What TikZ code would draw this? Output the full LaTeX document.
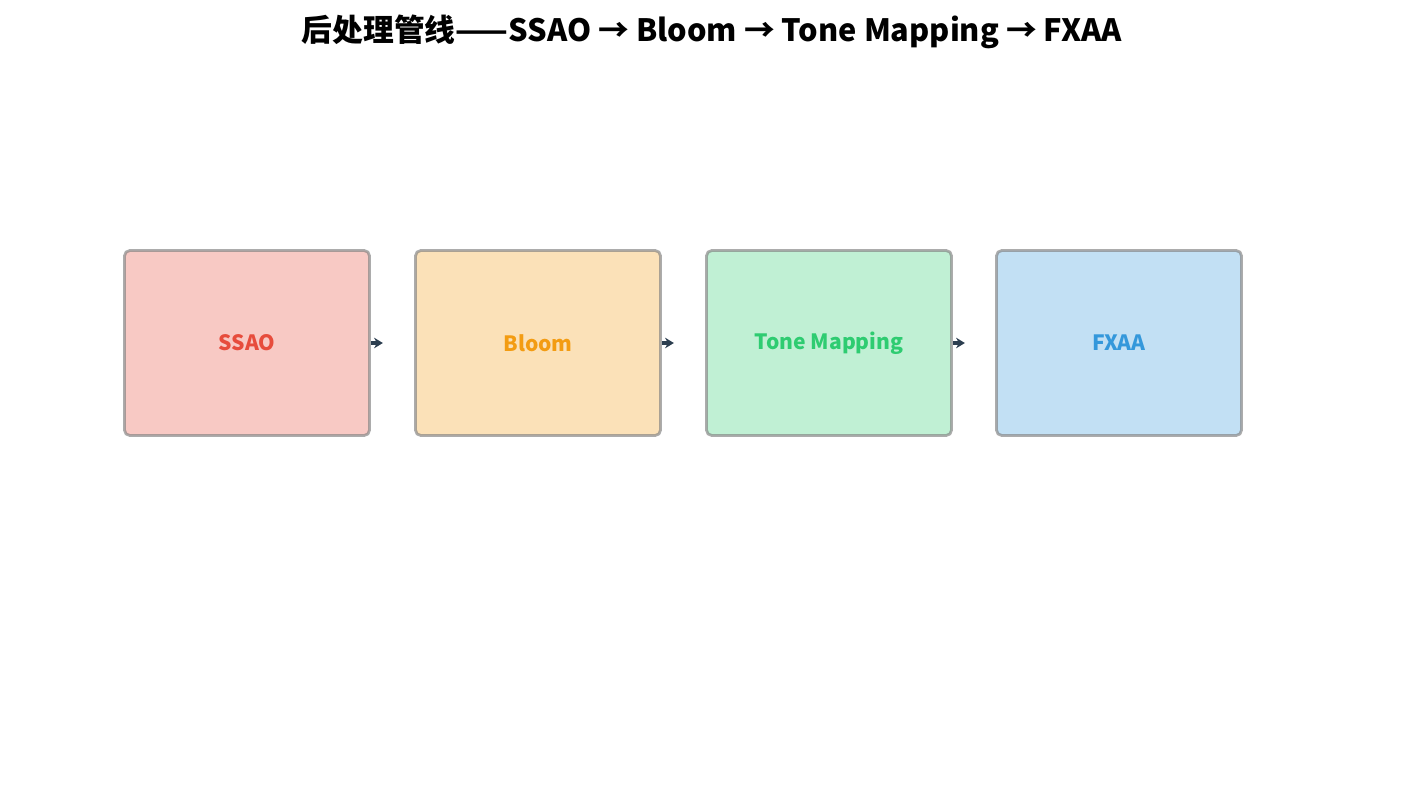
\documentclass[tikz,border=0pt]{standalone}
\usepackage{fontspec}
\setmainfont{Noto Sans CJK SC}
\usetikzlibrary{positioning,arrows.meta}
\definecolor{ssaoC}{HTML}{E74C3C}
\definecolor{bloomC}{HTML}{F39C12}
\definecolor{toneC}{HTML}{2ECC71}
\definecolor{fxaaC}{HTML}{3498DB}
\definecolor{arrowC}{HTML}{2C3E50}
\tikzset{
  stage/.style={draw=gray, draw opacity=0.65, line width=1.6pt, rounded corners=3pt,
    minimum width=4.9cm, minimum height=3.7cm, font=\bfseries\fontsize{12}{14}\selectfont},
  link/.style={-{Stealth[length=5pt,width=6pt]}, line width=1.8pt, draw=arrowC}
}
\begin{document}
\begin{tikzpicture}[x=0.02cm,y=-0.02cm]
    \useasboundingbox (0,0) rectangle (1425,792);
    % Title
    \node[font=\bfseries\fontsize{17.5}{20}\selectfont] (title) at (712,32) {后处理管线——SSAO → Bloom → Tone Mapping → FXAA};

    % Stages
    \node[stage, fill=ssaoC!30, text=ssaoC] (ssao) at (247,343) {SSAO};
    \node[stage, fill=bloomC!30, text=bloomC] (bloom) at (538,343) {Bloom};
    \node[stage, fill=toneC!30, text=toneC] (tone) at (829,343) {Tone Mapping};
    \node[stage, fill=fxaaC!30, text=fxaaC] (fxaa) at (1119,343) {FXAA};

    % Links
    \foreach \a/\n in {ssao/1,bloom/2,tone/3}{
        \coordinate (end\n) at ([xshift=0.24cm]\a.east);
        \draw[link] (\a.east) -- (end\n);
    }
\end{tikzpicture}
\end{document}
